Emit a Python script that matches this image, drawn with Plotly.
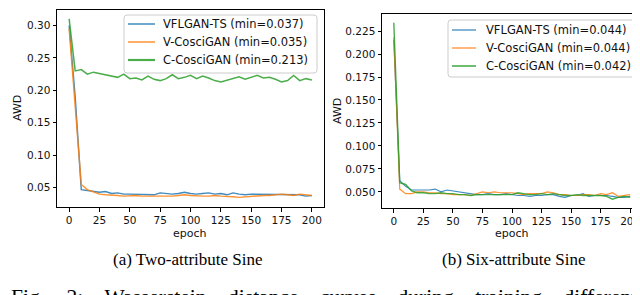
import plotly.graph_objects as go

epochs = list(range(0, 201, 5))

# (a) Two-attribute Sine
a_vflgan = [0.300, 0.190, 0.047, 0.046, 0.044, 0.043, 0.044, 0.041, 0.042, 0.040, 0.040,
            0.040, 0.039, 0.040, 0.039, 0.042, 0.041, 0.040, 0.041, 0.043, 0.041, 0.040,
            0.041, 0.042, 0.040, 0.041, 0.039, 0.042, 0.040, 0.039, 0.040, 0.040, 0.040,
            0.040, 0.040, 0.040, 0.040, 0.040, 0.039, 0.037, 0.038]
a_vcosci = [0.295, 0.170, 0.055, 0.047, 0.043, 0.040, 0.039, 0.039, 0.038, 0.037, 0.038,
            0.038, 0.037, 0.037, 0.036, 0.036, 0.037, 0.037, 0.038, 0.039, 0.038, 0.037,
            0.037, 0.037, 0.038, 0.037, 0.037, 0.036, 0.035, 0.036, 0.037, 0.037, 0.038,
            0.038, 0.039, 0.040, 0.039, 0.038, 0.040, 0.039, 0.038]
a_ccosci = [0.310, 0.230, 0.232, 0.225, 0.228, 0.226, 0.225, 0.222, 0.220, 0.225, 0.218,
            0.219, 0.216, 0.222, 0.217, 0.215, 0.218, 0.224, 0.218, 0.220, 0.223, 0.218,
            0.222, 0.219, 0.215, 0.213, 0.216, 0.218, 0.221, 0.217, 0.220, 0.223, 0.219,
            0.220, 0.217, 0.213, 0.215, 0.223, 0.215, 0.218, 0.216]

# (b) Six-attribute Sine
b_vflgan = [0.215, 0.062, 0.056, 0.052, 0.052, 0.052, 0.052, 0.053, 0.050, 0.052, 0.051,
            0.050, 0.049, 0.048, 0.047, 0.047, 0.048, 0.047, 0.047, 0.048, 0.047, 0.046,
            0.046, 0.045, 0.046, 0.046, 0.047, 0.047, 0.045, 0.044, 0.046, 0.046, 0.048,
            0.045, 0.046, 0.046, 0.046, 0.045, 0.044, 0.044, 0.045]
b_vcosci = [0.218, 0.053, 0.048, 0.048, 0.050, 0.050, 0.049, 0.049, 0.048, 0.048, 0.047,
            0.047, 0.047, 0.046, 0.048, 0.050, 0.049, 0.050, 0.049, 0.049, 0.049, 0.048,
            0.047, 0.048, 0.048, 0.048, 0.050, 0.049, 0.047, 0.047, 0.046, 0.046, 0.047,
            0.047, 0.046, 0.048, 0.047, 0.049, 0.045, 0.046, 0.047]
b_ccosci = [0.234, 0.060, 0.058, 0.051, 0.049, 0.049, 0.048, 0.048, 0.049, 0.048, 0.048,
            0.047, 0.047, 0.046, 0.047, 0.047, 0.047, 0.047, 0.047, 0.047, 0.047, 0.049,
            0.048, 0.047, 0.047, 0.048, 0.047, 0.048, 0.047, 0.046, 0.046, 0.047, 0.046,
            0.046, 0.046, 0.046, 0.045, 0.042, 0.044, 0.045, 0.044]

a_names = ["VFLGAN-TS (min=0.037)", "V-CosciGAN (min=0.035)", "C-CosciGAN (min=0.213)"]
b_names = ["VFLGAN-TS (min=0.044)", "V-CosciGAN (min=0.044)", "C-CosciGAN (min=0.042)"]
colors = ["#1f77b4", "#ff7f0e", "#2ca02c"]

x_ticks = list(range(0, 201, 25))
a_yticks = [0.05, 0.10, 0.15, 0.20, 0.25, 0.30]
b_yticks = [0.050, 0.075, 0.100, 0.125, 0.150, 0.175, 0.200, 0.225]

W, H = 640, 295
def px(x):
    return x / W
def py(y):
    return 1 - y / H

fig = go.Figure()
a_widths = [1.4, 1.4, 1.5]
b_widths = [1.2, 1.2, 1.4]
for ys, c, w in zip([a_vflgan, a_vcosci, a_ccosci], colors, a_widths):
    fig.add_trace(go.Scatter(x=epochs, y=ys, mode="lines", showlegend=False,
                             line=dict(color=c, width=w), opacity=0.85,
                             xaxis="x", yaxis="y"))
for ys, c, w in zip([b_vflgan, b_vcosci, b_ccosci], colors, b_widths):
    fig.add_trace(go.Scatter(x=epochs, y=ys, mode="lines", showlegend=False,
                             line=dict(color=c, width=w), opacity=0.85,
                             xaxis="x2", yaxis="y2"))

tickfont = dict(family="DejaVu Sans", size=10.5, color="#111111")
titlefont = dict(family="DejaVu Sans", size=11, color="#111111")
axis_common = dict(showline=True, mirror=True, linecolor="black", linewidth=1,
                   ticks="outside", ticklen=3.5, tickwidth=1, tickcolor="black",
                   showgrid=False, zeroline=False, tickfont=tickfont, automargin=False)

fig.update_layout(
    template="none",
    width=W, height=H, margin=dict(l=0, r=0, t=0, b=0, pad=0),
    paper_bgcolor="white", plot_bgcolor="white",
    font=dict(family="DejaVu Sans", size=11, color="black"),
    showlegend=False,
    xaxis=dict(domain=[px(49), px(316)], range=[-10, 210], tickvals=x_ticks,
               anchor="y", **axis_common),
    yaxis=dict(domain=[py(199), py(2)], range=[0.0202, 0.3238], tickvals=a_yticks,
               tickformat=".2f", anchor="x", **axis_common),
    xaxis2=dict(domain=[px(374), px(634)], range=[-10, 210], tickvals=x_ticks,
                anchor="y2", **axis_common),
    yaxis2=dict(domain=[py(200), py(6)], range=[0.0324, 0.2436], tickvals=b_yticks,
                tickformat=".3f", anchor="x2", **axis_common),
)

def ann(text, x, y, font, xanchor="center", yanchor="middle", angle=0):
    fig.add_annotation(text=text, x=px(x), y=py(y), xref="paper", yref="paper",
                       showarrow=False, font=font, xanchor=xanchor, yanchor=yanchor,
                       textangle=angle, borderpad=0)

# axis titles
ann("AWD", 9, 100, titlefont, angle=-90)
ann("epoch", 182, 225, titlefont)
ann("AWD", 329, 103, titlefont, angle=-90)
ann("epoch", 504, 225, titlefont)

# legends (drawn as shapes + text)
def rounded_box(x0, y0, x1, y1, r=3):
    X0, X1 = px(x0), px(x1)
    Y0, Y1 = py(y0), py(y1)
    rx, ry = r / W, r / H
    path = (f"M {X0+rx},{Y0} L {X1-rx},{Y0} Q {X1},{Y0} {X1},{Y0-ry} "
            f"L {X1},{Y1+ry} Q {X1},{Y1} {X1-rx},{Y1} L {X0+rx},{Y1} "
            f"Q {X0},{Y1} {X0},{Y1+ry} L {X0},{Y0-ry} Q {X0},{Y0} {X0+rx},{Y0} Z")
    fig.add_shape(type="path", path=path, xref="paper", yref="paper",
                  line=dict(color="#cccccc", width=1), fillcolor="rgba(255,255,255,0.8)")

legfont = dict(family="DejaVu Sans", size=11.5, color="#111111")

def legend(box, lx0, lx1, tx, ys, names, widths):
    rounded_box(*box)
    for yy, name, c, w in zip(ys, names, colors, widths):
        fig.add_shape(type="line", x0=px(lx0), x1=px(lx1), y0=py(yy), y1=py(yy),
                      xref="paper", yref="paper", line=dict(color=c, width=w), opacity=0.85)
        ann(name, tx, yy, legfont, xanchor="left")

legend((116, 7, 309, 65), 120, 147, 154, [16, 34, 52], a_names, [1.5, 1.5, 2.2])
legend((440, 12, 628, 69), 444, 468, 477, [22, 40, 58], b_names, [1.3, 1.3, 1.6])

# captions
serif = dict(family="Liberation Serif", size=17, color="black")
ann("(a) Two-attribute Sine", 180, 251, serif)
ann("(b) Six-attribute Sine", 506, 251, serif)
sp = "\u00a0" * 3 + " "
fig_line = sp.join(["Fig.", "2:", "Wasserstein", "distance", "curves", "during",
                    "training", "different"])
ann(fig_line, 2, 289, dict(family="Liberation Serif", size=21.5, color="black"),
    xanchor="left")

fig.write_html("out.html")
